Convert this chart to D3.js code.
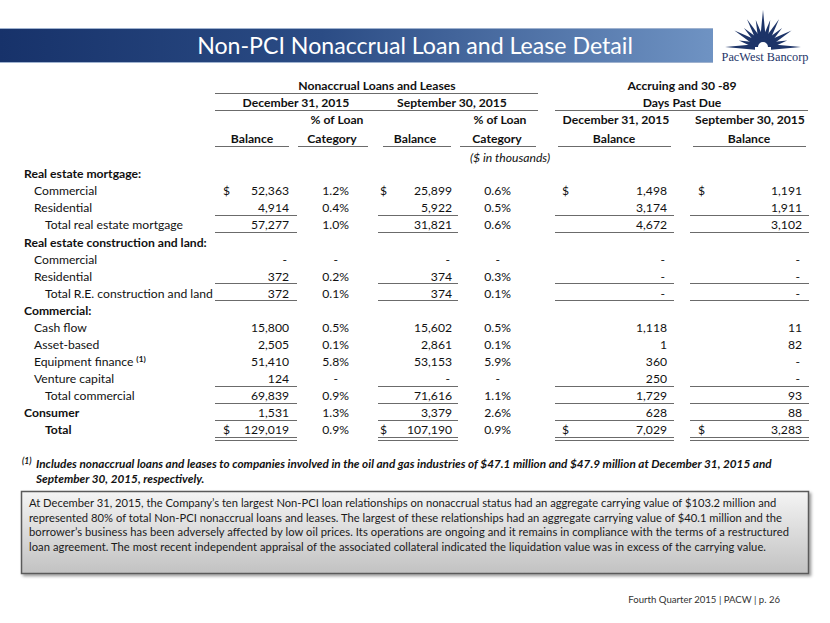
<!DOCTYPE html>
<html><head><meta charset="utf-8">
<script src="https://cdn.jsdelivr.net/npm/d3@7"></script>
<style>body{margin:0;background:#fff}svg{display:block}</style>
</head><body><svg id="c" width="830" height="623"></svg>
<script>
// ---------------- data ----------------
const rowLabels = ["Real estate mortgage:", "Commercial", "Residential", "Total real estate mortgage",
  "Real estate construction and land:", "Commercial", "Residential", "Total R.E. construction and land",
  "Commercial:", "Cash flow", "Asset-based", "Equipment finance", "Venture capital", "Total commercial",
  "Consumer", "Total"];
const rowLevels = [0,1,1,2,0,1,1,2,0,1,1,1,1,2,0,3]; // 0 heading, 1 item, 2 subtotal, 3 grand total
const footnoteRows = [11];
const dollarRows = [1, 15];
const singleRuleRows = [2,3,6,7,12,13,14];
const doubleRuleRows = [15];
// null = blank, 0 = dash
const decBalance = [null,52363,4914,57277,null,0,372,372,null,15800,2505,51410,124,69839,1531,129019];
const decPct     = [null,1.2,0.4,1.0,null,0,0.2,0.1,null,0.5,0.1,5.8,0,0.9,1.3,0.9];
const sepBalance = [null,25899,5922,31821,null,0,374,374,null,15602,2861,53153,0,71616,3379,107190];
const sepPct     = [null,0.6,0.5,0.6,null,0,0.3,0.1,null,0.5,0.1,5.9,0,1.1,2.6,0.9];
const accrDec    = [null,1498,3174,4672,null,0,0,0,null,1118,1,360,250,1729,628,7029];
const accrSep    = [null,1191,1911,3102,null,0,0,0,null,11,82,0,0,93,88,3283];

const title = "Non-PCI Nonaccrual Loan and Lease Detail";
const groupHeaders = ["Nonaccrual Loans and Leases", "Accruing and 30 -89", "Days Past Due"];
const dateHeaders = ["December 31, 2015", "September 30, 2015"];
const footnote = ["Includes nonaccrual loans and leases to companies involved in the oil and gas industries of $47.1 million and $47.9 million at December 31, 2015 and",
  "September 30, 2015, respectively."];
const boxText = ["At December 31, 2015, the Company\u2019s ten largest Non-PCI loan relationships on nonaccrual status had an aggregate carrying value of $103.2 million and",
  "represented 80% of total Non-PCI nonaccrual loans and leases. The largest of these relationships had an aggregate carrying value of $40.1 million and the",
  "borrower\u2019s business has been adversely affected by low oil prices. Its operations are ongoing and it remains in compliance with the terms of a restructured",
  "loan agreement. The most recent independent appraisal of the associated collateral indicated the liquidation value was in excess of the carrying value."];
const footer = "Fourth Quarter 2015 | PACW | p. 26";

// ---------------- layout ----------------
const svg = d3.select("#c");
const FONT = "Lato, 'Open Sans', sans-serif";
const INK = "#111";
const RULE = "#6b6b6b";

function fitFont(sel, target) {
  const fs = parseFloat(sel.attr("font-size"));
  const w = sel.node().getComputedTextLength();
  sel.attr("font-size", fs * target / w);
  return fs * target / w;
}

const defs = svg.append("defs");
const tg = defs.append("linearGradient").attr("id","tbar").attr("x1",0).attr("x2",1).attr("y1",0).attr("y2",0);
tg.append("stop").attr("offset","0%").attr("stop-color","#17326a");
tg.append("stop").attr("offset","45%").attr("stop-color","#2b4c85");
tg.append("stop").attr("offset","100%").attr("stop-color","#6f93c3");
const bg = defs.append("linearGradient").attr("id","bgrad").attr("x1",0).attr("x2",0).attr("y1",0).attr("y2",1);
bg.append("stop").attr("offset","0%").attr("stop-color","#f4f4f4");
bg.append("stop").attr("offset","100%").attr("stop-color","#c2c2c2");
const sh = defs.append("filter").attr("id","shadow").attr("x","-5%").attr("y","-10%").attr("width","110%").attr("height","130%");
sh.append("feDropShadow").attr("dx",2).attr("dy",2).attr("stdDeviation",1.6).attr("flood-color","#000").attr("flood-opacity",0.4);

// title bar
svg.append("rect").attr("x",0).attr("y",28).attr("width",713).attr("height",35).attr("fill","url(#tbar)");
svg.append("line").attr("x1",0).attr("x2",713).attr("y1",28.5).attr("y2",28.5).attr("stroke","#9fb2cf").attr("stroke-width",1);
svg.append("line").attr("x1",0).attr("x2",713).attr("y1",62.5).attr("y2",62.5).attr("stroke","#9fb2cf").attr("stroke-width",1);
const tt = svg.append("text").attr("x",415).attr("y",46).attr("dy","0.35em").attr("text-anchor","middle")
  .attr("font-family",FONT).attr("font-size",26).attr("fill","#fff").text(title);
fitFont(tt, 436);

// logo
const logo = svg.append("g").attr("fill","#1d3468");
const cx = 763, cy = 47;
const rayAngles = d3.range(-180, 1, 15);
const rayLen = [38,25,33,27,32,28,37,28,32,27,33,25,38];
rayAngles.forEach((a,i) => {
  const t = a*Math.PI/180;
  const L = rayLen[i], r0 = 8, hw = 2.8;
  const ux = Math.cos(t), uy = Math.sin(t), px = -uy, py = ux;
  const p = [[cx + r0*ux + hw*px, cy + r0*uy + hw*py], [cx + L*ux, cy + L*uy], [cx + r0*ux - hw*px, cy + r0*uy - hw*py]];
  logo.append("path").attr("d", d3.line()(p) + "Z");
});
logo.append("path").attr("d", d3.arc()({innerRadius:5, outerRadius:9.5, startAngle:-Math.PI/2, endAngle:Math.PI/2})).attr("transform",`translate(${cx},${cy})`);
const lt = svg.append("text").attr("x",765).attr("y",57).attr("dy","0.35em").attr("text-anchor","middle")
  .attr("font-family","'Liberation Serif','DejaVu Serif',serif").attr("font-size",13).attr("fill","#1d3468").text("PacWest Bancorp");
fitFont(lt, 87);

// ---------- table ----------
const y = d3.scalePoint().domain(d3.range(rowLabels.length)).range([174, 430]);
// calibrate table font size
const probe = svg.append("text").attr("font-family",FONT).attr("font-weight","bold").attr("font-size",13).text(rowLabels[4]);
const TFS = fitFont(probe, 183);
probe.remove();

const cols = [
  {vals: decBalance, right: 289, dollar: 223, rule: [215, 297], pct: false},
  {vals: decPct,     right: 349, pct: true},
  {vals: sepBalance, right: 452, dollar: 380, rule: [378, 458], pct: false},
  {vals: sepPct,     right: 511, pct: true},
  {vals: accrDec,    right: 667, dollar: 562, rule: [555, 674], pct: false},
  {vals: accrSep,    right: 802, dollar: 698, rule: [690, 809], pct: false}
];
const fmtNum = d3.format(",");
const fmtPct = d3.format(".1f");
const indent = d3.scaleOrdinal().domain([0,1,2,3]).range([24, 34, 45, 45]);

const tbl = svg.append("g").attr("font-family",FONT).attr("font-size",TFS).attr("fill",INK);

// headers
function htext(x, yy, t, opt={}) {
  return tbl.append("text").attr("x",x).attr("y",yy).attr("dy","0.35em").attr("text-anchor","middle")
    .attr("font-weight", opt.normal ? "normal" : "bold").attr("font-style", opt.italic ? "italic" : "normal").text(t);
}
htext(377, 86, groupHeaders[0]);
htext(682, 86, groupHeaders[1]);
htext(296, 103, dateHeaders[0]);
htext(452, 103, dateHeaders[1]);
htext(682, 103, groupHeaders[2]);
htext(337, 120, "% of Loan");
htext(500, 120, "% of Loan");
htext(616, 120, dateHeaders[0]);
htext(750, 120, dateHeaders[1]);
[[252,"Balance"],[332,"Category"],[415,"Balance"],[497,"Category"],[614,"Balance"],[749,"Balance"]]
  .forEach(d => htext(d[0], 139, d[1]));
htext(510, 158, "($ in thousands)", {normal:true, italic:true});

function hrule(x1, x2, yy) {
  tbl.append("line").attr("x1",x1).attr("x2",x2).attr("y1",yy).attr("y2",yy).attr("stroke",RULE).attr("stroke-width",1.2);
}
hrule(215, 538, 93.5);
hrule(215, 538, 110.5);
hrule(555, 808, 110.5);
[[215,289],[298,368],[383,451],[460,536],[558,671],[693,806]].forEach(d => hrule(d[0], d[1], 146.5));

// row labels
rowLabels.forEach((lab, i) => {
  const lv = rowLevels[i];
  const t = tbl.append("text").attr("x", indent(lv)).attr("y", y(i)).attr("dy","0.35em")
    .attr("font-weight", (lv === 0 || lv === 3) ? "bold" : "normal").text(lab);
  if (lv === 2) t.attr("textLength", null);
  if (footnoteRows.includes(i)) {
    t.append("tspan").attr("dy","-0.45em").attr("dx","3").attr("font-size",TFS*0.68).attr("font-weight","bold").text("(1)");
  }
});

// cells
cols.forEach(c => {
  c.vals.forEach((v, i) => {
    if (v === null) return;
    let txt, x = c.right;
    if (v === 0) { txt = "-"; x = c.pct ? c.right - 11 : c.right - 2; }
    else txt = c.pct ? fmtPct(v) + "%" : fmtNum(v);
    tbl.append("text").attr("x", x).attr("y", y(i)).attr("dy","0.35em").attr("text-anchor","end").text(txt);
    if (!c.pct && dollarRows.includes(i)) {
      tbl.append("text").attr("x", c.dollar).attr("y", y(i)).attr("dy","0.35em").attr("text-anchor","start").text("$");
    }
  });
  if (c.rule) {
    singleRuleRows.forEach(i => hrule(c.rule[0], c.rule[1], Math.round(y(i) + 7) + 0.5));
    doubleRuleRows.forEach(i => {
      hrule(c.rule[0], c.rule[1], Math.round(y(i) + 7) + 0.5);
      hrule(c.rule[0], c.rule[1], Math.round(y(i) + 10) + 0.5);
    });
  }
});

// footnote
const fn = svg.append("g").attr("font-family",FONT).attr("font-weight","bold").attr("font-style","italic").attr("fill",INK);
fn.append("text").attr("x",22).attr("y",461).attr("dy","0.35em").attr("font-size",8.5).text("(1)");
const f1 = fn.append("text").attr("x",36).attr("y",464).attr("dy","0.35em").attr("font-size",12).text(footnote[0]);
const FFS = fitFont(f1, 736);
fn.append("text").attr("x",36).attr("y",479).attr("dy","0.35em").attr("font-size",FFS).text(footnote[1]);

// box
svg.append("rect").attr("x",21.5).attr("y",491.5).attr("width",787).attr("height",82)
  .attr("fill","url(#bgrad)").attr("stroke","#5a5a5a").attr("stroke-width",1.5).attr("filter","url(#shadow)");
const bx = svg.append("g").attr("font-family",FONT).attr("fill","#1a1a1a");
const b1 = bx.append("text").attr("x",29).attr("y",503).attr("dy","0.35em").attr("font-size",12).text(boxText[0]);
const BFS = fitFont(b1, 748);
const lineWidths = [748, 753, 760, 737];
const lineYs = [503, 518, 532, 547];
boxText.slice(1).forEach((t, k) => {
  const s = bx.append("text").attr("x",29).attr("y",lineYs[k+1]).attr("dy","0.35em").attr("font-size",BFS).text(t);
  const w = s.node().getComputedTextLength();
  if (Math.abs(w - lineWidths[k+1]) > 2) s.attr("textLength", lineWidths[k+1]).attr("lengthAdjust","spacing");
});

// footer
const ft = svg.append("text").attr("x",780).attr("y",600).attr("dy","0.35em").attr("text-anchor","end")
  .attr("font-family",FONT).attr("font-size",11).attr("fill","#333").text(footer);
fitFont(ft, 152);
</script>
</body></html>
